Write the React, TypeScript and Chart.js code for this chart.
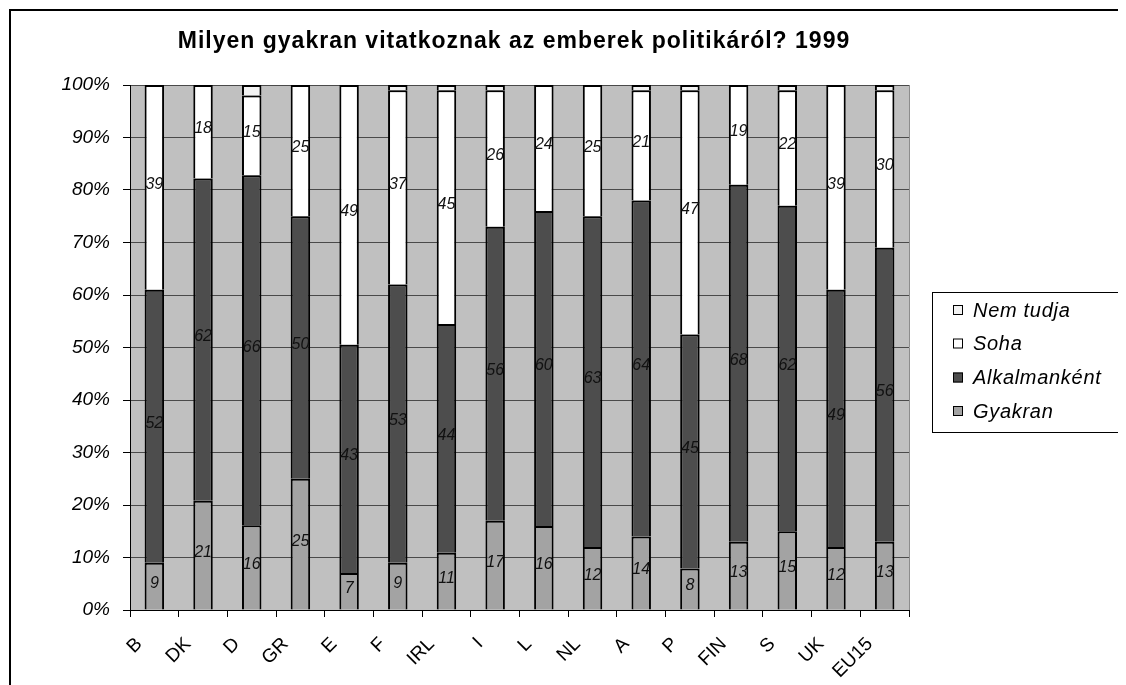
import React, { useEffect, useRef } from 'react';
import { Chart, registerables } from 'chart.js';

Chart.register(...registerables);

const categories = ['B', 'DK', 'D', 'GR', 'E', 'F', 'IRL', 'I', 'L', 'NL', 'A', 'P', 'FIN', 'S', 'UK', 'EU15'];
const gyakran = [9, 21, 16, 25, 7, 9, 11, 17, 16, 12, 14, 8, 13, 15, 12, 13];
const alkalmankent = [52, 62, 66, 50, 43, 53, 44, 56, 60, 63, 64, 45, 68, 62, 49, 56];
const soha = [39, 18, 15, 25, 49, 37, 45, 26, 24, 25, 21, 47, 19, 22, 39, 30];
const nemTudja = [0, 0, 2, 0, 0, 1, 1, 1, 0, 0, 1, 1, 0, 1, 0, 1];

const seriesNames = ['Gyakran', 'Alkalmanként', 'Soha', 'Nem tudja'];
const seriesColors = ['#a3a3a3', '#4d4d4d', '#ffffff', '#f2f2f2'];
const yTicks = [0, 10, 20, 30, 40, 50, 60, 70, 80, 90, 100];
const title = 'Milyen gyakran vitatkoznak az emberek politikáról? 1999';

const FONT = '"Liberation Sans", Arial, Helvetica, sans-serif';

export default function App() {
  const ref = useRef<HTMLCanvasElement>(null);

  useEffect(() => {
    document.body.style.overflow = 'hidden';
    const canvas = ref.current;
    if (!canvas) return;
    const raws = [gyakran, alkalmankent, soha, nemTudja];
    const totals = categories.map((_, i) => raws.reduce((s, a) => s + a[i], 0));
    const toPct = (arr: number[]) => arr.map((v, i) => (v / totals[i]) * 100);

    const bgPlugin = {
      id: 'plotBg',
      beforeDraw(chart: any) {
        const { ctx, chartArea: a } = chart;
        ctx.save();
        ctx.fillStyle = '#c0c0c0';
        ctx.fillRect(a.left, a.top, a.right - a.left, a.bottom - a.top);
        ctx.strokeStyle = '#8c8c8c';
        ctx.lineWidth = 1;
        ctx.beginPath();
        ctx.moveTo(a.right + 0.5, a.top);
        ctx.lineTo(a.right + 0.5, a.bottom);
        ctx.stroke();
        ctx.restore();
      },
    };

    const labelPlugin = {
      id: 'segLabels',
      afterDatasetsDraw(chart: any) {
        const { ctx } = chart;
        ctx.save();
        ctx.font = `italic 16px ${FONT}`;
        ctx.fillStyle = '#111';
        ctx.textAlign = 'center';
        ctx.textBaseline = 'middle';
        for (let d = 0; d < 3; d++) {
          const meta = chart.getDatasetMeta(d);
          meta.data.forEach((bar: any, i: number) => {
            const v = raws[d][i];
            if (!v) return;
            const y = (bar.y + bar.base) / 2 - 3;
            ctx.fillText(String(v), bar.x, y);
          });
        }
        ctx.restore();
      },
    };

    const framePlugin = {
      id: 'frame',
      afterDraw(chart: any) {
        const { ctx } = chart;
        ctx.save();
        // outer border
        ctx.fillStyle = '#000';
        ctx.fillRect(1, 1, chart.width, 2);
        ctx.fillRect(1, 1, 2, chart.height);
        // title
        ctx.font = `bold 23px ${FONT}`;
        (ctx as any).letterSpacing = '1px';
        ctx.textAlign = 'center';
        ctx.textBaseline = 'alphabetic';
        ctx.fillStyle = '#000';
        ctx.fillText(title, 506, 40);
        (ctx as any).letterSpacing = '0px';
        // legend
        const lx = 924, ly = 284, lw = 189, lh = 140;
        ctx.fillStyle = '#fff';
        ctx.fillRect(lx, ly, lw, lh);
        ctx.strokeStyle = '#000';
        ctx.lineWidth = 1;
        ctx.strokeRect(lx + 0.5, ly + 0.5, lw, lh);
        const rows = [3, 2, 1, 0];
        const centers = [302, 335.5, 369.5, 403];
        ctx.font = `italic 20px ${FONT}`;
        (ctx as any).letterSpacing = '0.7px';
        ctx.textAlign = 'left';
        ctx.textBaseline = 'middle';
        rows.forEach((d, k) => {
          const cy = centers[k];
          ctx.fillStyle = seriesColors[d];
          ctx.fillRect(945, cy - 5, 10, 10);
          ctx.strokeStyle = '#000';
          ctx.strokeRect(945.5, cy - 4.5, 9, 9);
          ctx.fillStyle = '#000';
          ctx.fillText(seriesNames[d], 965, cy + 1);
        });
        (ctx as any).letterSpacing = '0px';
        ctx.restore();
      },
    };

    const chart = new Chart(canvas, {
      type: 'bar',
      data: {
        labels: categories,
        datasets: raws.map((arr, d) => ({
          label: seriesNames[d],
          data: toPct(arr),
          backgroundColor: seriesColors[d],
          borderColor: '#000',
          borderWidth: 2,
          borderSkipped: 'start' as const,
          barPercentage: 0.4,
          categoryPercentage: 1,
        })),
      },
      options: {
        responsive: false,
        animation: false,
        devicePixelRatio: 1,
        layout: { padding: { top: 77, right: 217, bottom: 0, left: 0 } },
        plugins: {
          legend: { display: false },
          title: { display: false },
          tooltip: { enabled: false },
        },
        scales: {
          x: {
            stacked: true,
            offset: true,
            grid: {
              display: true,
              drawOnChartArea: false,
              drawTicks: true,
              tickLength: 7,
              color: '#000',
              offset: true,
            },
            border: { display: true, color: '#000', width: 1 },
            ticks: {
              autoSkip: false,
              maxRotation: 45,
              minRotation: 45,
              padding: 16,
              labelOffset: -15,
              color: '#000',
              font: { family: FONT, size: 19 },
            },
            afterFit(scale: any) {
              scale.height = 75;
            },
          },
          y: {
            stacked: true,
            min: 0,
            max: 100,
            afterBuildTicks(scale: any) {
              scale.ticks = yTicks.map((v) => ({ value: v }));
            },
            grid: {
              color: '#4a4a4a',
              tickColor: '#000',
              tickLength: 7,
              lineWidth: 1,
            },
            border: { display: true, color: '#000', width: 1 },
            ticks: {
              padding: 13,
              color: '#000',
              font: { family: FONT, size: 19, style: 'italic' },
              callback: (v: any) => `${v}%`,
            },
            afterFit(scale: any) {
              scale.width = 122;
            },
          },
        },
      },
      plugins: [bgPlugin, labelPlugin, framePlugin],
    } as any);

    return () => chart.destroy();
  }, []);

  return (
    <canvas
      ref={ref}
      width={1118}
      height={677}
      style={{ display: 'block', width: 1118, height: 677 }}
    />
  );
}
